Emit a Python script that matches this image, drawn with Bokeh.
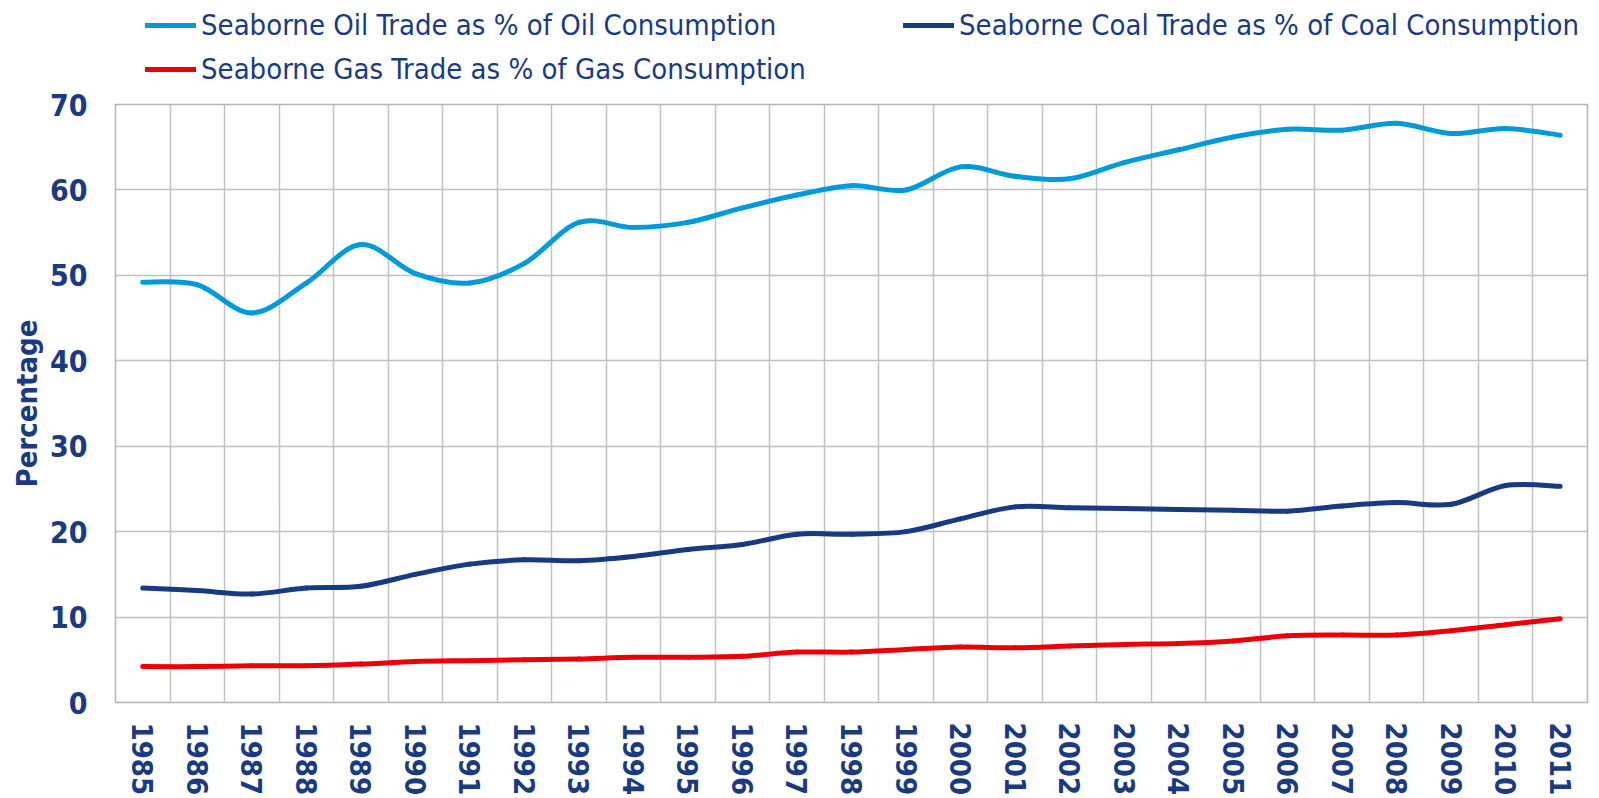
import math
from bokeh.plotting import figure
from bokeh.layouts import column
from bokeh.models import Range1d, FixedTicker, Legend, LegendItem
from bokeh.embed import file_html
from bokeh.resources import INLINE

years = list(range(1985, 2012))
oil = [49.2, 48.9, 45.6, 49.1, 53.6, 50.2, 49.1, 51.4, 56.2, 55.6, 56.2, 57.9, 59.4, 60.5,
       60.0, 62.7, 61.6, 61.3, 63.2, 64.7, 66.2, 67.1, 67.0, 67.8, 66.6, 67.2, 66.4]
coal = [13.4, 13.1, 12.7, 13.4, 13.6, 15.0, 16.2, 16.7, 16.6, 17.1, 17.9, 18.5, 19.7, 19.7,
        20.0, 21.5, 22.9, 22.8, 22.7, 22.6, 22.5, 22.4, 23.0, 23.4, 23.2, 25.4, 25.3]
gas = [4.2, 4.2, 4.3, 4.3, 4.5, 4.8, 4.9, 5.0, 5.1, 5.3, 5.3, 5.4, 5.9, 5.9,
       6.2, 6.5, 6.4, 6.6, 6.8, 6.9, 7.2, 7.8, 7.9, 7.9, 8.4, 9.1, 9.8]
labels = ["Seaborne Oil Trade as % of Oil Consumption",
          "Seaborne Coal Trade as % of Coal Consumption",
          "Seaborne Gas Trade as % of Gas Consumption"]
y_ticks = [0, 10, 20, 30, 40, 50, 60, 70]

TEXT = "#1b3a80"
GRID = "#c0c0c0"
FONT = "DejaVu Sans Condensed"
COLORS = ["#009ad9", "#173a82", "#ec0008"]

LEG_H = 86

# ---- main chart ----
p = figure(width=1599, height=798 - LEG_H, output_backend="svg", toolbar_location=None,
           x_range=Range1d(1984.5, 2011.5), y_range=Range1d(0, 70),
           min_border_left=115, min_border_right=12, min_border_top=104 - LEG_H,
           min_border_bottom=96)
p.outline_line_color = "#b4b4b4"
p.outline_line_width = 1.5
p.outline_line_alpha = 1.0

p.xaxis.ticker = FixedTicker(ticks=years)
p.yaxis.ticker = FixedTicker(ticks=y_ticks)
p.xgrid.ticker = FixedTicker(ticks=[y + 0.5 for y in years[:-1]])
for g in (p.xgrid, p.ygrid):
    g.grid_line_color = GRID
    g.grid_line_width = 1.5
for ax in (p.xaxis, p.yaxis):
    ax.axis_line_color = None
    ax.major_tick_line_color = None
    ax.minor_tick_line_color = None
    ax.major_tick_out = 0
    ax.major_tick_in = 0
    ax.minor_tick_out = 0
    ax.minor_tick_in = 0
    ax.major_label_text_font = FONT
    ax.major_label_text_font_style = "bold"
    ax.major_label_text_color = TEXT
p.yaxis.major_label_text_font_size = "30px"
p.xaxis.major_label_text_font_size = "29px"
p.xaxis.major_label_orientation = "vertical"
p.xaxis.major_label_standoff = 20
p.yaxis.major_label_standoff = 28
p.yaxis.axis_label = "Percentage"
p.yaxis.axis_label_text_font = FONT
p.yaxis.axis_label_text_font_style = "bold"
p.yaxis.axis_label_text_font_size = "29px"
p.yaxis.axis_label_text_color = TEXT
p.yaxis.axis_label_standoff = 3


def smooth_segments(xs, ys):
    n = len(xs)
    out = {k: [] for k in ("x0", "y0", "x1", "y1", "cx0", "cy0", "cx1", "cy1")}
    for i in range(n - 1):
        a = i - 1 if i > 0 else i
        d = i + 2 if i + 2 < n else i + 1
        out["x0"].append(xs[i]); out["y0"].append(ys[i])
        out["x1"].append(xs[i + 1]); out["y1"].append(ys[i + 1])
        out["cx0"].append(xs[i] + (xs[i + 1] - xs[a]) / 6.0)
        out["cy0"].append(ys[i] + (ys[i + 1] - ys[a]) / 6.0)
        out["cx1"].append(xs[i + 1] - (xs[d] - xs[i]) / 6.0)
        out["cy1"].append(ys[i + 1] - (ys[d] - ys[i]) / 6.0)
    return out


for series, color in zip([oil, coal, gas], COLORS):
    s = smooth_segments(years, series)
    p.bezier(x0=s["x0"], y0=s["y0"], x1=s["x1"], y1=s["y1"],
             cx0=s["cx0"], cy0=s["cy0"], cx1=s["cx1"], cy1=s["cy1"],
             line_color=color, line_width=5, line_cap="round")

# ---- legend strip (frames are aligned with the chart below) ----
lf = figure(width=1599, height=LEG_H, output_backend="svg", toolbar_location=None,
            x_axis_type=None, y_axis_type=None, x_range=Range1d(0, 1), y_range=Range1d(0, 1),
            min_border_left=115, min_border_right=12, min_border_top=0, min_border_bottom=0)
lf.outline_line_color = None
lf.xgrid.visible = False
lf.ygrid.visible = False

legend_locs = [(30, 44), (788, 44), (30, 0)]
item_h = [30, 30, 22]
for lab, color, loc, h in zip(labels, COLORS, legend_locs, item_h):
    r = lf.line(x=[math.nan], y=[math.nan], line_color=color, line_width=5, line_cap="round")
    leg = Legend(items=[LegendItem(label=lab, renderers=[r])], location=loc,
                 border_line_color=None, background_fill_alpha=0, padding=0, margin=0,
                 glyph_width=51, glyph_height=h, label_height=h, label_standoff=5,
                 label_text_font=FONT, label_text_font_size="29px", label_text_color=TEXT)
    lf.add_layout(leg)

layout = column(lf, p, spacing=0)
open("out.html", "w").write(file_html(layout, INLINE))
